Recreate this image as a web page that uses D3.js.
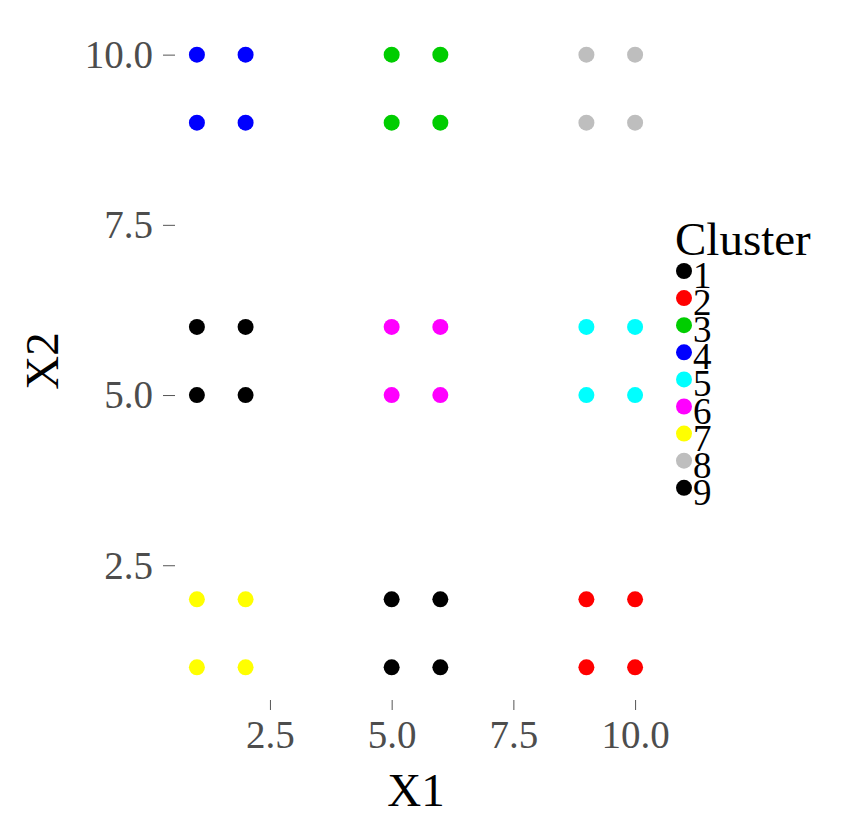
<!DOCTYPE html>
<html lang="en">
<head>
<meta charset="UTF-8">
<title>Clusters</title>
<style>
  body { margin: 0; background: #fff; }
  text { font-family: "Liberation Serif", "Times New Roman", serif; }
</style>
</head>
<body>
<div id="chart"></div>
<script src="https://d3js.org/d3.v7.min.js"></script>
<script>
  // points
  const x1 = [1, 1, 2, 2,  9, 9, 10, 10,  5, 5, 6, 6,  1, 1, 2, 2,  9, 9, 10, 10,  5, 5, 6, 6,  1, 1, 2, 2,  9, 9, 10, 10,  5, 5, 6, 6];
  const x2 = [5, 6, 5, 6,  1, 2, 1, 2,  9, 10, 9, 10,  9, 10, 9, 10,  5, 6, 5, 6,  5, 6, 5, 6,  1, 2, 1, 2,  9, 10, 9, 10,  1, 2, 1, 2];
  const cluster = [1, 1, 1, 1,  2, 2, 2, 2,  3, 3, 3, 3,  4, 4, 4, 4,  5, 5, 5, 5,  6, 6, 6, 6,  7, 7, 7, 7,  8, 8, 8, 8,  9, 9, 9, 9];

  const clusterLevels = ["1", "2", "3", "4", "5", "6", "7", "8", "9"];
  const clusterColors = ["#000000", "#FF0000", "#00CD00", "#0000FF", "#00FFFF", "#FF00FF", "#FFFF00", "#BEBEBE", "#000000"];
  const xTicks = [2.5, 5.0, 7.5, 10.0];
  const yTicks = [2.5, 5.0, 7.5, 10.0];

  const W = 848, H = 831;
  const panel = {left: 175, right: 657, top: 24, bottom: 698};

  const svg = d3.select("#chart").append("svg")
      .attr("width", W)
      .attr("height", H);

  const x = d3.scaleLinear().domain([0.55, 10.45]).range([panel.left, panel.right]);
  const y = d3.scaleLinear().domain([0.55, 10.45]).range([panel.bottom, panel.top]);
  const color = d3.scaleOrdinal().domain(clusterLevels).range(clusterColors);

  // axes
  const xAxis = svg.append("g")
      .attr("transform", `translate(0,${panel.bottom + 2})`)
      .call(d3.axisBottom(x).tickValues(xTicks).tickFormat(d3.format(".1f")).tickSize(10).tickPadding(10));
  const yAxis = svg.append("g")
      .attr("transform", `translate(${panel.left},0)`)
      .call(d3.axisLeft(y).tickValues(yTicks).tickFormat(d3.format(".1f")).tickSize(12).tickPadding(10));

  [xAxis, yAxis].forEach(g => {
    g.select(".domain").remove();
    g.selectAll(".tick line").attr("stroke", "#555").attr("stroke-width", 1);
    g.selectAll(".tick text")
        .attr("fill", "#4d4d4d")
        .style("font-family", "'Liberation Serif', serif")
        .style("font-size", "39px");
  });
  xAxis.selectAll(".tick text").attr("dy", "0.71em");
  yAxis.selectAll(".tick text").attr("dy", "0.33em");

  // points
  const points = x1.map((v, i) => ({x1: v, x2: x2[i], cluster: String(cluster[i])}));
  svg.append("g")
    .selectAll("circle")
    .data(points)
    .join("circle")
      .attr("cx", d => x(d.x1))
      .attr("cy", d => y(d.x2))
      .attr("r", 8)
      .attr("fill", d => color(d.cluster));

  // axis titles
  svg.append("text")
      .attr("x", (panel.left + panel.right) / 2)
      .attr("y", 806)
      .attr("text-anchor", "middle")
      .style("font-size", "47px")
      .text("X1");

  svg.append("text")
      .attr("transform", `translate(58,${(panel.top + panel.bottom) / 2}) rotate(-90)`)
      .attr("text-anchor", "middle")
      .style("font-size", "47px")
      .text("X2");

  // legend
  const legend = svg.append("g").attr("transform", "translate(675,0)");
  legend.append("text")
      .attr("x", 0)
      .attr("y", 255)
      .style("font-size", "47px")
      .text("Cluster");

  const key = legend.selectAll("g.key")
    .data(clusterLevels)
    .join("g")
      .attr("class", "key")
      .attr("transform", (d, i) => `translate(0,${271 + i * 27.1})`);
  key.append("circle")
      .attr("cx", 9)
      .attr("cy", 0)
      .attr("r", 8)
      .attr("fill", d => color(d));
  key.append("text")
      .attr("x", 18)
      .attr("y", 17)
      .style("font-size", "37px")
      .text(d => d);
</script>
</body>
</html>
